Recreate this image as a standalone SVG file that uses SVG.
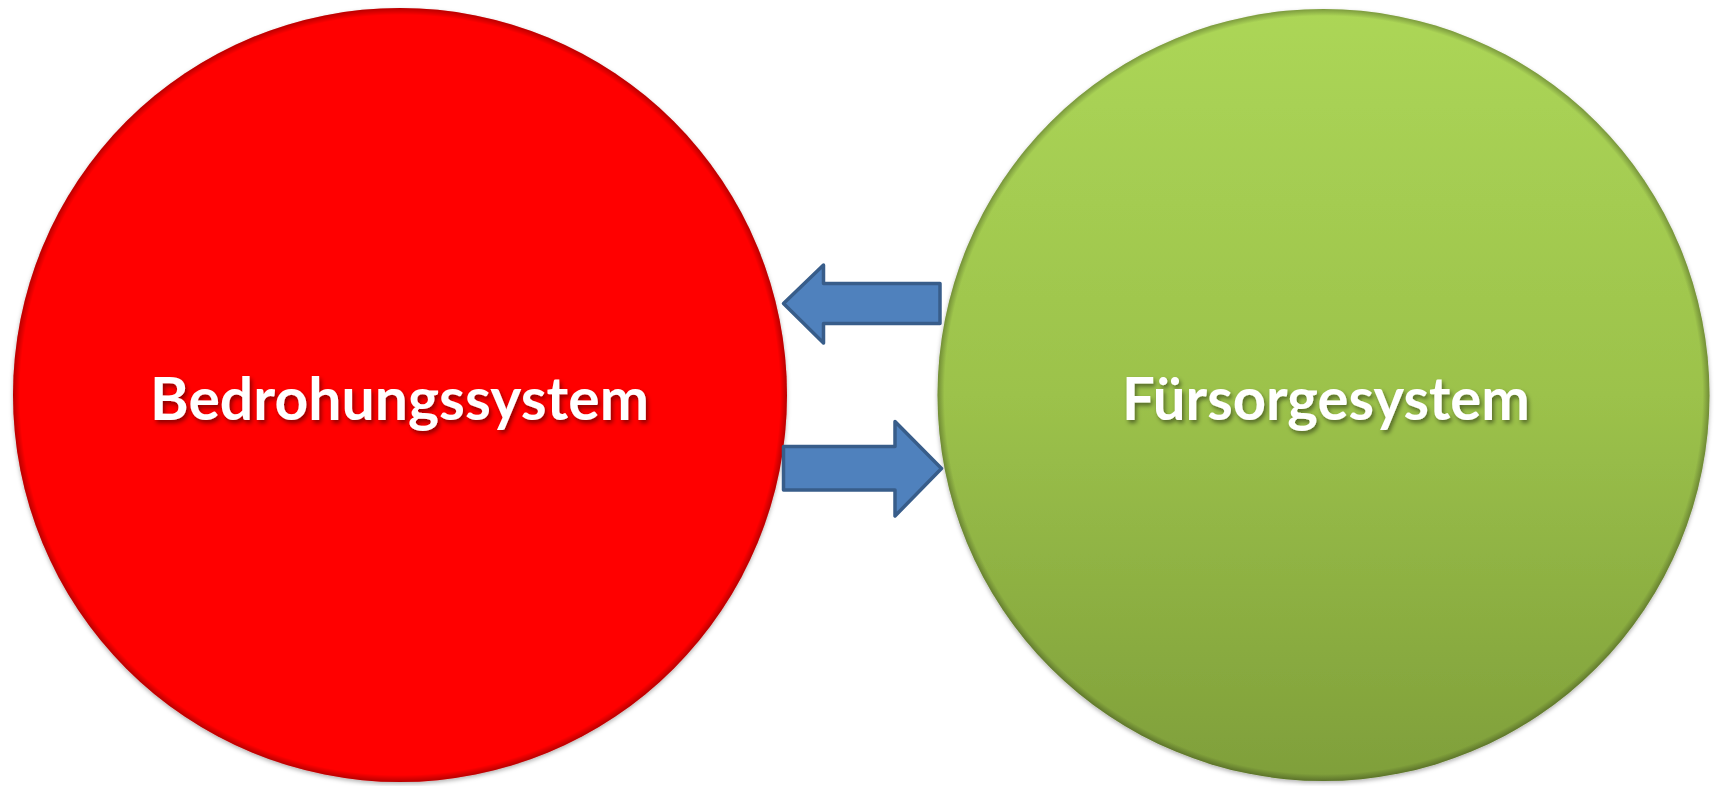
<svg xmlns="http://www.w3.org/2000/svg" width="1718" height="786" viewBox="0 0 1718 786">
<defs>
<linearGradient id="gGreen" x1="0" y1="0" x2="0" y2="1">
<stop offset="0" stop-color="#acd657"/>
<stop offset="0.5" stop-color="#9cc24b"/>
<stop offset="1" stop-color="#7f9f3a"/>
</linearGradient>
<radialGradient id="rim" cx="0.5" cy="0.5" r="0.5">
<stop offset="0.982" stop-color="#000" stop-opacity="0"/>
<stop offset="1" stop-color="#000" stop-opacity="0.28"/>
</radialGradient>
<filter id="shadow" x="-10%" y="-10%" width="120%" height="120%">
<feDropShadow dx="0" dy="2" stdDeviation="2" flood-color="#000" flood-opacity="0.3"/>
</filter>
<filter id="tshadow" x="-5%" y="-20%" width="110%" height="150%">
<feDropShadow dx="2" dy="3" stdDeviation="2" flood-color="#000" flood-opacity="0.45"/>
</filter>
</defs>
<style>
.lbl{font-family:Lato,"Open Sans","Liberation Sans",sans-serif;font-weight:bold;font-size:60px;fill:#ffffff;text-anchor:middle;}
.arrow{fill:#4f81bd;stroke:#385d8a;stroke-width:3.5;stroke-linejoin:round;}
</style>
<rect width="1718" height="786" fill="#ffffff"/>
<g id="node-bedrohung">
<circle cx="400" cy="395" r="387" fill="#ff0606" filter="url(#shadow)"/>
<circle cx="400" cy="395" r="387" fill="url(#rim)"/>
<text class="lbl" x="399.5" y="420" textLength="499" lengthAdjust="spacingAndGlyphs" filter="url(#tshadow)">Bedrohungssystem</text>
</g>
<g id="node-fuersorge">
<circle cx="1323.5" cy="395" r="386" fill="url(#gGreen)" filter="url(#shadow)"/>
<circle cx="1323.5" cy="395" r="386" fill="url(#rim)"/>
<text class="lbl" x="1326" y="420" textLength="408" lengthAdjust="spacingAndGlyphs" filter="url(#tshadow)">Fürsorgesystem</text>
</g>
<g id="connectors">
<path class="arrow" d="M940,283.5 L823.5,283.5 L823.5,265 L783.5,303.5 L823.5,343 L823.5,323.5 L940,323.5 Z"/>
<path class="arrow" d="M783.5,446.5 L895,446.5 L895,421.5 L941.5,468.5 L895,516 L895,490 L783.5,490 Z"/>
</g>
</svg>
